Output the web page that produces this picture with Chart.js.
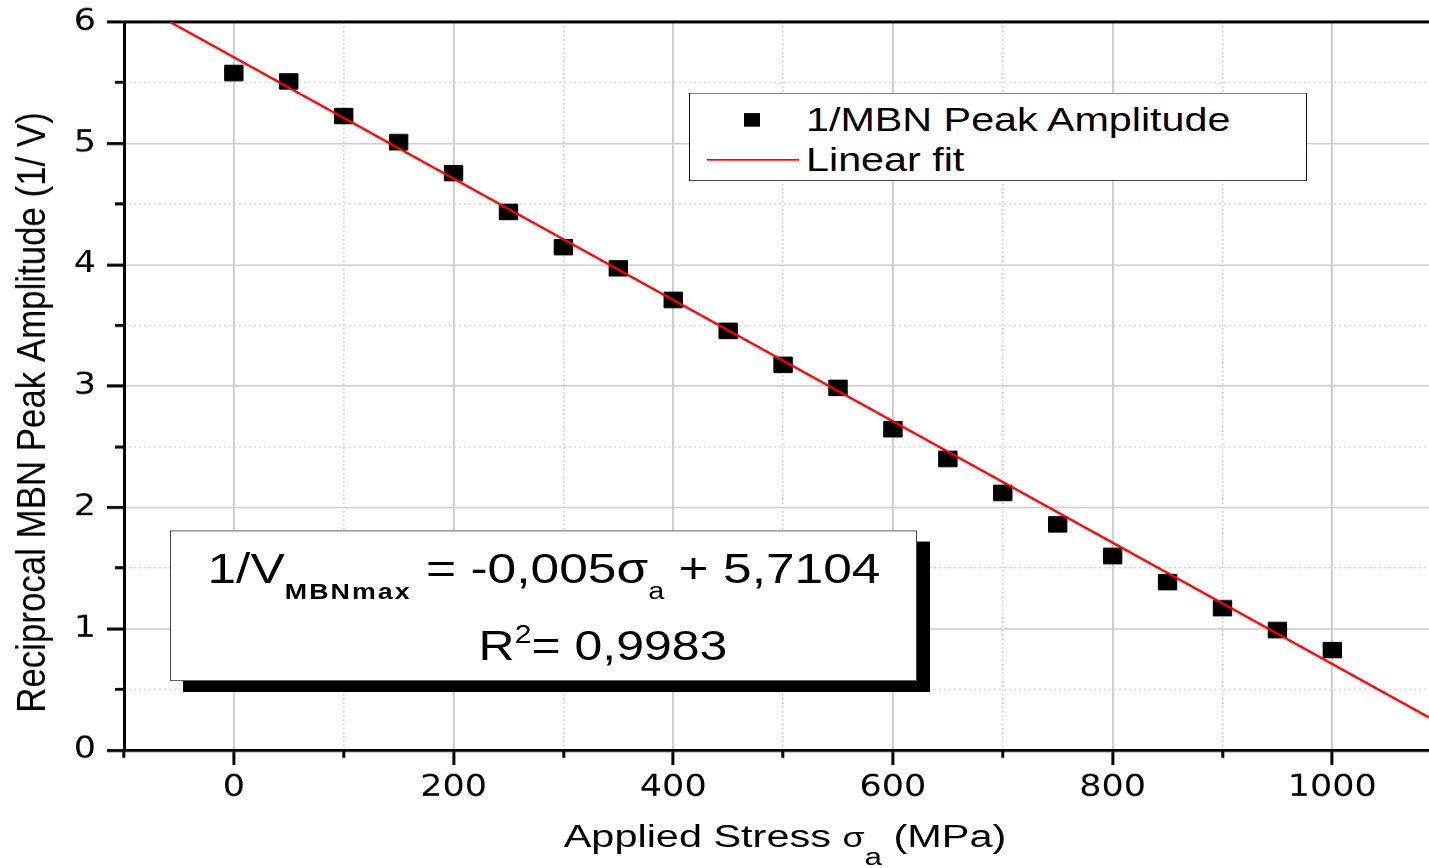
<!DOCTYPE html>
<html>
<head>
<meta charset="utf-8">
<script src="https://cdn.jsdelivr.net/npm/chart.js@4.4.1/dist/chart.umd.min.js"></script>
<style>
html,body{margin:0;padding:0;background:#fff;overflow:hidden;width:1429px;height:868px;}
#wrap{position:absolute;left:0;top:0;width:1429px;height:1021px;transform:scaleY(0.85015);transform-origin:0 0;font-family:"Liberation Sans",Arial,Helvetica,sans-serif;color:#000;}
#chart{position:absolute;left:0;top:0;width:1429px;height:1021px;}
.abs{position:absolute;white-space:nowrap;line-height:1;}
#legendBox{position:absolute;left:689px;top:109.4px;width:618px;height:103.5px;box-sizing:border-box;border:1.6px solid #111;background:#fff;}
#legMarker{position:absolute;left:744px;top:132.6px;width:16px;height:16px;background:#000;}
#legLine{position:absolute;left:706.5px;top:186.9px;width:92px;height:2.6px;background:#ff0000;}
.legText{font-size:39.5px;left:806px;transform:scaleX(1.045);transform-origin:0 0;}
#eqBox{position:absolute;left:170px;top:623.5px;width:747px;height:177.6px;box-sizing:border-box;border:1.6px solid #444;background:#fff;box-shadow:13px 13px 0 #000;}
.eq{font-size:50px;}
#eq1{left:543.5px;top:643.6px;transform:translateX(-50%) scaleX(1.03);}
#eq2{left:603px;top:734.2px;transform:translateX(-50%);}
.sb{font-weight:bold;font-size:26px;position:relative;top:18px;letter-spacing:2px;}
.sa{font-size:28px;position:relative;top:18px;}
#xTitle{font-size:37px;left:784.5px;top:965.2px;transform:translateX(-50%) scaleX(1.12);}
.sig{font-size:32px;}
.sa2{font-size:28px;position:relative;top:22px;}
</style>
</head>
<body>
<div id="wrap">
  <canvas id="chart" width="1429" height="1021"></canvas>
  <div id="legendBox"></div>
  <div id="legMarker"></div>
  <div id="legLine"></div>
  <div class="abs legText" style="top:120.8px;">1/MBN Peak Amplitude</div>
  <div class="abs legText" style="top:167.8px;">Linear fit</div>
  <div id="eqBox"></div>
  <div class="abs eq" id="eq1">1/V<span class="sb">MBNmax</span> = -0,005σ<span class="sa">a</span> + 5,7104</div>
  <div class="abs eq" id="eq2">R<span style="font-size:30px;position:relative;top:-20px;">2</span>= 0,9983</div>
  <div class="abs" id="xTitle">Applied Stress <span class="sig">σ</span><span class="sa2">a</span> (MPa)</div>
</div>
<script>
// ---- data ----
const stress = [0, 50, 100, 150, 200, 250, 300, 350, 400, 450, 500, 550, 600, 650, 700, 750, 800, 850, 900, 950, 1000];
const reciprocalAmp = [5.58, 5.51, 5.225, 5.01, 4.755, 4.435, 4.145, 3.97, 3.71, 3.455, 3.175, 2.985, 2.645, 2.4, 2.12, 1.86, 1.6, 1.385, 1.17, 0.99, 0.825];
const fitStress = [-58, 1088];
const fitValue = [6.0, 0.27];
const xMajorTicks = [0, 200, 400, 600, 800, 1000];
const xMinorTicks = [-100, 100, 300, 500, 700, 900];
const yMajorTicks = [0, 1, 2, 3, 4, 5, 6];
const yMinorTicks = [0.5, 1.5, 2.5, 3.5, 4.5, 5.5];
const xRange = [-100, 1088];
const yRange = [0, 6];

const FONT = '"Liberation Sans", Arial, Helvetica, sans-serif';
const TICK_FONT = '"DejaVu Sans", "Liberation Sans", sans-serif';
const H = 1021;
const PLOT_TOP = 25.9;
const PLOT_BOTTOM = 882.4;
const PLOT_LEFT = 124;
const MAJOR_GRID = '#cbcbcb';
const MINOR_GRID = '#d2d2d2';

const setTicks = (arr) => (s) => { s.ticks = arr.map(v => ({ value: v })); };

new Chart(document.getElementById('chart'), {
  type: 'scatter',
  data: {
    datasets: [
      {
        label: '1/MBN Peak Amplitude',
        data: stress.map((x, i) => ({ x: x, y: reciprocalAmp[i] })),
        pointStyle: 'rect',
        pointRadius: 13,
        pointHoverRadius: 13,
        backgroundColor: '#000',
        borderColor: '#000',
        pointBorderWidth: 1,
        showLine: false,
        order: 2
      },
      {
        label: 'Linear fit',
        data: fitStress.map((x, i) => ({ x: x, y: fitValue[i] })),
        showLine: true,
        borderColor: '#ff0000',
        backgroundColor: '#ff0000',
        borderWidth: 2.7,
        pointRadius: 0,
        pointHoverRadius: 0,
        clip: 0,
        order: 1
      }
    ]
  },
  options: {
    responsive: false,
    animation: false,
    events: [],
    layout: { autoPadding: false, padding: { top: PLOT_TOP, left: 0, right: 0, bottom: 0 } },
    plugins: { legend: { display: false }, tooltip: { enabled: false } },
    scales: {
      x: {
        type: 'linear', axis: 'x', position: 'bottom', min: xRange[0], max: xRange[1],
        afterBuildTicks: setTicks(xMajorTicks),
        afterFit: (s) => { s.height = H - PLOT_BOTTOM; s.paddingLeft = 0; s.paddingRight = 0; },
        grid: { color: MAJOR_GRID, lineWidth: 1.8, tickLength: 17.5, tickWidth: 3, tickColor: '#000' },
        border: { display: true, color: '#000', width: 3.5 },
        ticks: { font: { family: TICK_FONT, size: 35 }, color: '#000', padding: 6, maxRotation: 0, autoSkip: false,
                 callback: (v) => String(v) }
      },
      x2: {
        type: 'linear', axis: 'x', position: { y: 0 }, min: xRange[0], max: xRange[1],
        afterBuildTicks: setTicks(xMinorTicks),
        afterFit: (s) => { s.height = 0; s.paddingLeft = 0; s.paddingRight = 0; },
        grid: { color: MINOR_GRID, lineWidth: 1.6, tickLength: 9.5, tickWidth: 3, tickColor: '#000' },
        border: { display: false, dash: [2, 3] },
        ticks: { display: false }
      },
      y: {
        type: 'linear', axis: 'y', position: 'left', min: yRange[0], max: yRange[1],
        afterBuildTicks: setTicks(yMajorTicks),
        afterFit: (s) => { s.width = PLOT_LEFT; s.paddingTop = 0; s.paddingBottom = 0; },
        grid: {
          color: (c) => (c.tick && c.tick.value === 6) ? '#000' : MAJOR_GRID,
          lineWidth: (c) => (c.tick && c.tick.value === 6) ? 3.5 : 1.8,
          tickLength: 17, tickWidth: 3.5, tickColor: '#000'
        },
        border: { display: true, color: '#000', width: 3 },
        ticks: { font: { family: TICK_FONT, size: 35 }, color: '#000', padding: 11 },
        title: {
          display: true,
          text: 'Reciprocal MBN Peak Amplitude (1/ V)    \u2009\u2009',
          font: { family: FONT, size: 41 },
          color: '#000',
          padding: { top: 9, bottom: 0 }
        }
      },
      y2: {
        type: 'linear', axis: 'y', position: { x: -100 }, min: yRange[0], max: yRange[1],
        afterBuildTicks: setTicks(yMinorTicks),
        afterFit: (s) => { s.width = 0; s.paddingTop = 0; s.paddingBottom = 0; },
        grid: { color: MINOR_GRID, lineWidth: 1.6, tickLength: 9, tickWidth: 3.5, tickColor: '#000' },
        border: { display: false, dash: [2, 3] },
        ticks: { display: false }
      }
    }
  }
});
</script>
</body>
</html>
